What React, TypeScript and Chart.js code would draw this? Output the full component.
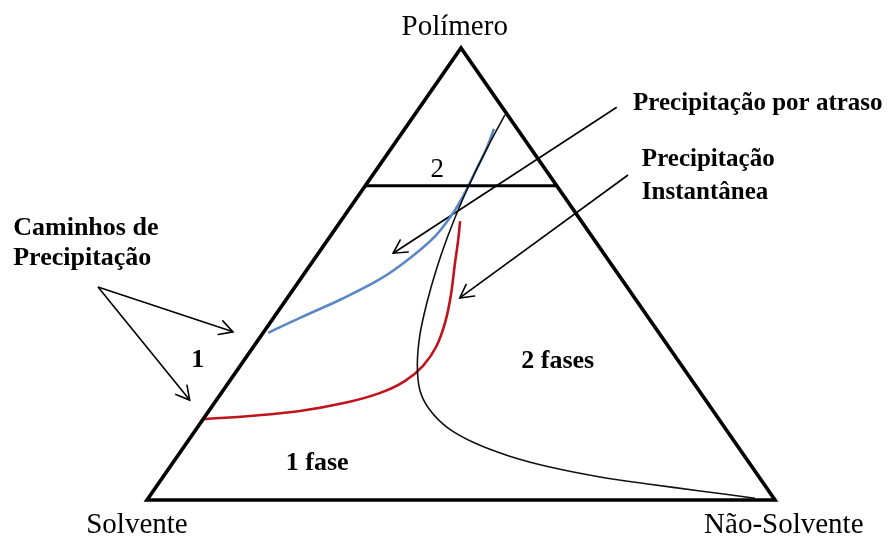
import React, { useEffect, useRef } from "react";
import { Chart, registerables } from "chart.js";

Chart.register(...registerables);

const SERIF = '"Liberation Serif", "Times New Roman", serif';

// Ternary compositions: fraction of polymer (apex) and non-solvent (bottom-right); solvent = rest
const trianglePolymer = [0, 0, 1, 0, 0];
const triangleNonSolvent = [0, 1, 0, 0, 1];

const tieLinePolymer = [0.695, 0.695];
const tieLineNonSolvent = [0, 0.305];

// Binodal (thin black curve)
const binodalPolymer = [0.852, 0.79, 0.719, 0.65, 0.58, 0.509, 0.438, 0.365, 0.299, 0.243, 0.199, 0.159, 0.126, 0.097, 0.073, 0.051, 0.035, 0.02, 0.004];
const binodalNonSolvent = [0.144, 0.151, 0.161, 0.173, 0.188, 0.206, 0.227, 0.252, 0.281, 0.313, 0.351, 0.4, 0.459, 0.529, 0.605, 0.696, 0.783, 0.871, 0.966];

// Delayed precipitation path (blue)
const delayedPolymer = [0.37, 0.403, 0.443, 0.489, 0.535, 0.584, 0.631, 0.675, 0.73, 0.777, 0.821];
const delayedNonSolvent = [0.008, 0.042, 0.086, 0.127, 0.151, 0.167, 0.17, 0.167, 0.159, 0.152, 0.142];

// Instantaneous precipitation path (red)
const instantPolymer = [0.179, 0.186, 0.197, 0.215, 0.237, 0.263, 0.297, 0.339, 0.394, 0.454, 0.52, 0.575, 0.617];
const instantNonSolvent = [0.003, 0.071, 0.145, 0.208, 0.253, 0.279, 0.291, 0.291, 0.278, 0.257, 0.23, 0.208, 0.19];

// Annotation arrows in plot coordinates
const arrowFromX = [0.748, 0.766, -0.078, -0.078];
const arrowFromY = [0.869, 0.719, 0.471, 0.471];
const arrowToX = [0.392, 0.498, 0.137, 0.068];
const arrowToY = [0.546, 0.447, 0.372, 0.221];

// Text labels in plot coordinates
const labelTexts = [
  "Polímero",
  "Solvente",
  "Não-Solvente",
  "2",
  "1",
  "1 fase",
  "2 fases",
  "Precipitação por atraso",
  "Precipitação",
  "Instantânea",
  "Caminhos de",
  "Precipitação",
];
const labelX = [0.49, -0.016, 1.014, 0.462, 0.081, 0.271, 0.654, 0.774, 0.788, 0.788, -0.213, -0.213];
const labelY = [1.029, -0.073, -0.073, 0.715, 0.294, 0.066, 0.292, 0.862, 0.739, 0.666, 0.586, 0.52];
const labelAlign = ["center", "center", "center", "center", "center", "center", "center", "left", "left", "left", "left", "left"];
const labelBold = [false, false, false, false, true, true, true, true, true, true, true, true];
const labelSize = [29, 29, 29, 27, 26, 26, 26, 25, 25, 25, 26, 26];

function toXY(polymer: number[], nonSolvent: number[]) {
  return polymer.map((p, i) => ({ x: nonSolvent[i] + p / 2, y: p }));
}

const arrowHeadPlugin = {
  id: "arrowHeads",
  afterDatasetsDraw(chart: any) {
    const { ctx, scales } = chart;
    const xs = scales.x;
    const ys = scales.y;
    ctx.save();
    ctx.strokeStyle = "#000";
    ctx.lineWidth = 1.6;
    ctx.lineCap = "round";
    for (let i = 0; i < arrowToX.length; i++) {
      const x0 = xs.getPixelForValue(arrowFromX[i]);
      const y0 = ys.getPixelForValue(arrowFromY[i]);
      const x1 = xs.getPixelForValue(arrowToX[i]);
      const y1 = ys.getPixelForValue(arrowToY[i]);
      const ang = Math.atan2(y1 - y0, x1 - x0);
      const len = 15;
      const spread = 0.5;
      ctx.beginPath();
      ctx.moveTo(x1 - len * Math.cos(ang - spread), y1 - len * Math.sin(ang - spread));
      ctx.lineTo(x1, y1);
      ctx.lineTo(x1 - len * Math.cos(ang + spread), y1 - len * Math.sin(ang + spread));
      ctx.stroke();
    }
    ctx.restore();
  },
};

const labelPlugin = {
  id: "labels",
  afterDraw(chart: any) {
    const { ctx, scales } = chart;
    ctx.save();
    ctx.fillStyle = "#000";
    ctx.textBaseline = "alphabetic";
    labelTexts.forEach((t, i) => {
      ctx.font = `${labelBold[i] ? "bold " : ""}${labelSize[i]}px ${SERIF}`;
      ctx.textAlign = labelAlign[i];
      ctx.fillText(t, scales.x.getPixelForValue(labelX[i]), scales.y.getPixelForValue(labelY[i]));
    });
    ctx.restore();
  },
};

export default function App() {
  const ref = useRef<HTMLCanvasElement>(null);
  useEffect(() => {
    document.body.style.margin = "0";
    const canvas = ref.current!;
    const arrowSets = arrowFromX.map((_, i) => ({
      data: [
        { x: arrowFromX[i], y: arrowFromY[i] },
        { x: arrowToX[i], y: arrowToY[i] },
      ],
      borderColor: "#000",
      borderWidth: 1.6,
      pointRadius: 0,
      showLine: true,
      clip: false as any,
    }));
    const chart = new Chart(canvas, {
      type: "scatter",
      data: {
        datasets: [
          {
            data: toXY(trianglePolymer, triangleNonSolvent),
            borderColor: "#000",
            borderWidth: 3.6,
            borderJoinStyle: "miter",
            pointRadius: 0,
            showLine: true,
            clip: false as any,
          },
          {
            data: toXY(tieLinePolymer, tieLineNonSolvent),
            borderColor: "#000",
            borderWidth: 3,
            pointRadius: 0,
            showLine: true,
          },
          {
            data: toXY(binodalPolymer, binodalNonSolvent),
            borderColor: "#111",
            borderWidth: 1.6,
            pointRadius: 0,
            showLine: true,
            tension: 0.35,
          },
          {
            data: toXY(delayedPolymer, delayedNonSolvent),
            borderColor: "#5b88c2",
            borderWidth: 2.6,
            pointRadius: 0,
            showLine: true,
            tension: 0.35,
          },
          {
            data: toXY(instantPolymer, instantNonSolvent),
            borderColor: "#c0141c",
            borderWidth: 2.6,
            pointRadius: 0,
            showLine: true,
            tension: 0.35,
          },
          ...arrowSets,
        ],
      },
      options: {
        animation: false,
        responsive: false,
        devicePixelRatio: 1,
        layout: { padding: { left: 147, right: 116, top: 48, bottom: 40 } },
        scales: {
          x: { type: "linear", min: 0, max: 1, display: false },
          y: { type: "linear", min: 0, max: 1, display: false },
        },
        plugins: { legend: { display: false }, tooltip: { enabled: false } },
      },
      plugins: [arrowHeadPlugin, labelPlugin],
    });
    return () => chart.destroy();
  }, []);
  return (
    <div style={{ width: 891, height: 540, background: "#fff" }}>
      <canvas ref={ref} width={891} height={540} />
    </div>
  );
}
